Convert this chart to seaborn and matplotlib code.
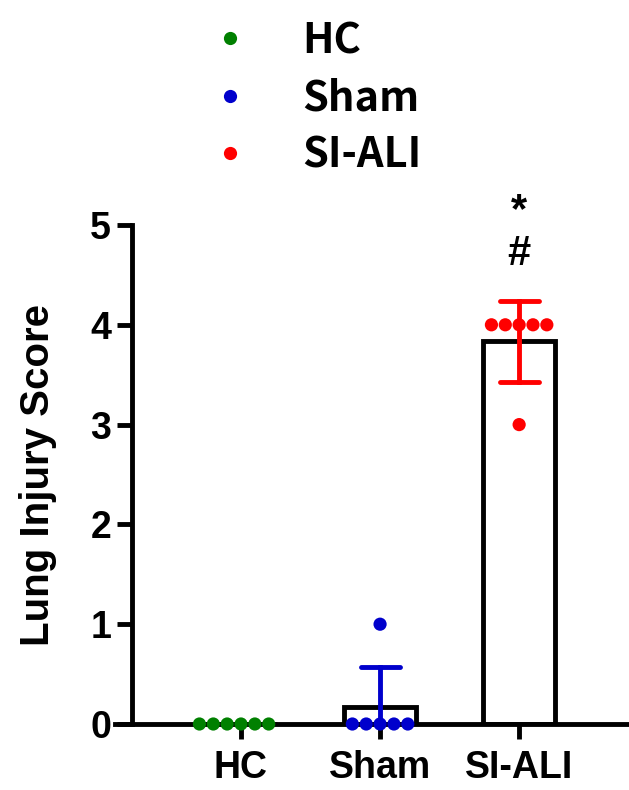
import pandas as pd
import matplotlib
matplotlib.use("Agg")
import matplotlib.pyplot as plt
import seaborn as sns

# group names and individual lung injury scores
groups = ["HC", "Sham", "SI-ALI"]
hc_scores = [0, 0, 0, 0, 0, 0]
sham_scores = [0, 0, 0, 0, 0, 1]
siali_scores = [4, 4, 4, 4, 4, 3]
group_colors = ["#008000", "#0000CC", "#FF0000"]
y_ticks = [0, 1, 2, 3, 4, 5]

df = pd.DataFrame({
    "group": ["HC"] * len(hc_scores) + ["Sham"] * len(sham_scores) + ["SI-ALI"] * len(siali_scores),
    "score": hc_scores + sham_scores + siali_scores,
})
palette = dict(zip(groups, group_colors))

sns.set_style("ticks", {"axes.edgecolor": "black", "text.color": "black",
                        "axes.labelcolor": "black", "xtick.color": "black",
                        "ytick.color": "black"})
plt.rcParams["font.family"] = ["Liberation Sans", "DejaVu Sans"]
plt.rcParams["font.weight"] = "bold"

fig = plt.figure(figsize=(6.29, 7.9), dpi=100)
ax = fig.add_axes([115 / 629, 1 - 724 / 790, 514 / 629, 499 / 790])

# open bars showing the group mean
sns.barplot(data=df, x="group", y="score", order=groups, errorbar=None,
            color="white", edgecolor="black", linewidth=3.5, width=0.52, ax=ax)

# mean +/- SD error bars in the group colour
sns.pointplot(data=df, x="group", y="score", hue="group", order=groups, hue_order=groups,
              palette=palette, errorbar="sd", capsize=0.28, linestyle="none", markers="",
              err_kws={"linewidth": 3.5}, legend=False, ax=ax)

# individual animals
sns.swarmplot(data=df, x="group", y="score", hue="group", order=groups, hue_order=groups,
              palette=palette, size=9.5, linewidth=0, legend=True, ax=ax)
for coll in ax.collections:
    coll.set_clip_on(False)
    coll.set_zorder(5)

ax.set_ylim(0, 5)
ax.set_xlim(-0.906, 2.79)
ax.set_yticks(y_ticks)
ax.set_xlabel("")
ax.set_ylabel("Lung Injury Score", fontsize=29, fontweight="bold", color="black")
ax.yaxis.set_label_coords(-0.113, 0.5)

sns.despine(ax=ax)
ax.spines["left"].set_position(("axes", 17 / 514))
ax.spines["left"].set_linewidth(3.5)
ax.spines["bottom"].set_linewidth(3.5)
ax.tick_params(axis="both", length=11, width=3.5, labelsize=27, color="black", labelcolor="black")
ax.tick_params(axis="x", pad=8)
ax.tick_params(axis="y", pad=4)
for lab in ax.get_xticklabels() + ax.get_yticklabels():
    lab.set_fontweight("bold")

# significance marks above SI-ALI
ax.text(2, 5.14, "*", ha="center", va="center", fontsize=30, fontweight="bold",
        color="black", clip_on=False)
ax.text(2, 4.71, "#", ha="center", va="center", fontsize=30, fontweight="bold",
        color="black", clip_on=False)

# legend at top
old = ax.get_legend()
if old is not None:
    handles = old.legend_handles
    labels = [t.get_text() for t in old.get_texts()]
    old.remove()
else:
    handles, labels = ax.get_legend_handles_labels()
leg = ax.legend(handles, labels, loc="upper left", bbox_to_anchor=(217.5 / 629, 1 - 20 / 790),
                bbox_transform=fig.transFigure, frameon=False, borderpad=0, borderaxespad=0,
                handlelength=0.6, handletextpad=1.43, labelspacing=0.37,
                prop={"family": ["Noto Sans CJK SC", "DejaVu Sans"], "weight": "bold", "size": 30})
for t in leg.get_texts():
    t.set_color("black")

plt.savefig("out.png", dpi=100)
